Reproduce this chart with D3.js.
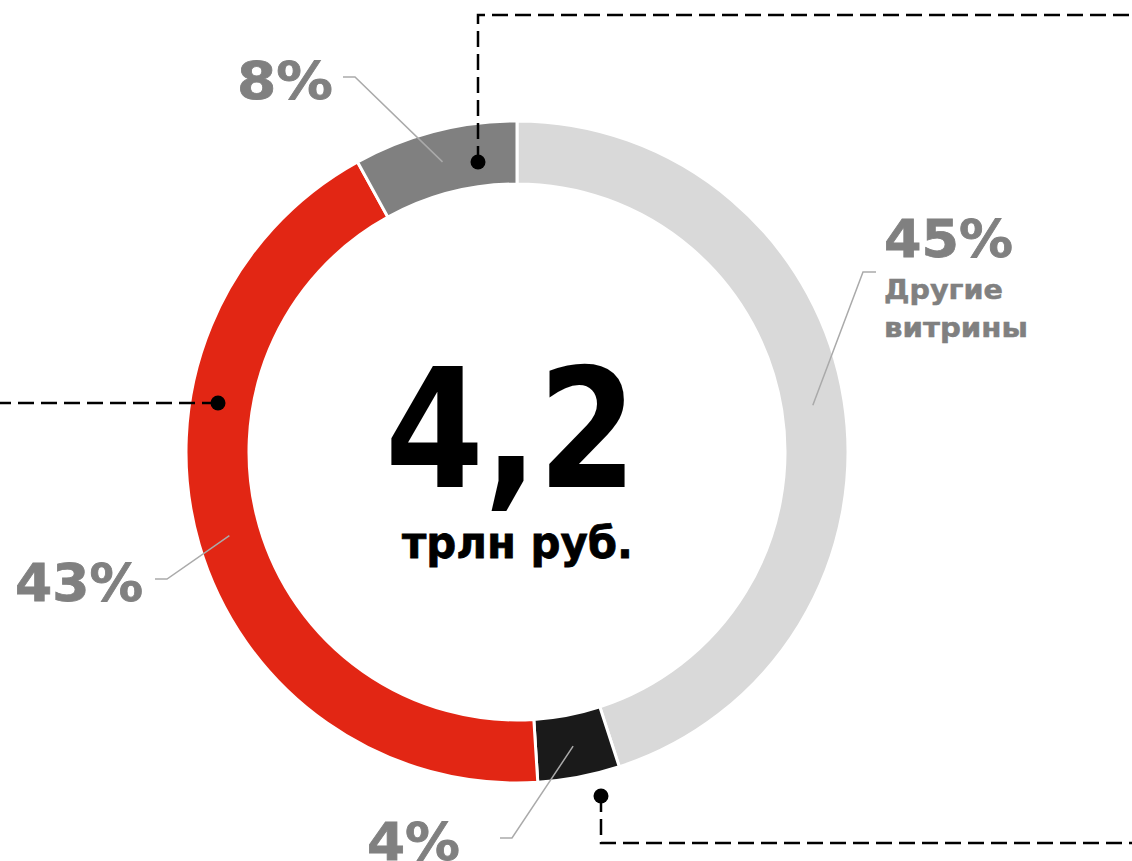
<!DOCTYPE html>
<html>
<head>
<meta charset="utf-8">
<script src="https://cdn.jsdelivr.net/npm/d3@7"></script>
<style>
html,body{margin:0;padding:0;background:#fff;}
svg{display:block;}
text{font-family:"DejaVu Sans",Verdana,sans-serif;font-weight:bold;}
</style>
</head>
<body>
<svg id="chart" width="1132" height="861"></svg>
<script>
// Data
const categories = ["Другие витрины", "Сегмент 2", "Сегмент 3", "Сегмент 4"];
const values = [45, 4, 43, 8];
const colors = ["#d9d9d9", "#1a1a1a", "#e22614", "#808080"];
const pctLabels = ["45%", "4%", "43%", "8%"];
const totalValue = "4,2";
const totalUnit = "трлн руб.";

// Layout
const W = 1132, H = 861;
const cx = 517, cy = 452;
const rOuter = 331, rInner = 268;
const svg = d3.select("#chart");
const g = svg.append("g").attr("transform", `translate(${cx},${cy})`);

const pie = d3.pie().sort(null).value(d => d);
const arcs = pie(values);
const arc = d3.arc().innerRadius(rInner).outerRadius(rOuter);

g.selectAll("path.slice").data(arcs).enter().append("path")
  .attr("class", "slice")
  .attr("d", arc)
  .attr("fill", (d, i) => colors[i])
  .attr("stroke", "#fff")
  .attr("stroke-width", 3);

// label annotation layout (elbow point, end point, text position, text width)
const labelLayout = [
  {elbow: [346, -180], end: [359, -180], tx: 367, ty: -195, w: 129, sub: ["Другие", "витрины"], subW: [119, 144]},
  {elbow: [-5, 386], end: [-17, 386], tx: -150, ty: 408, w: 93, sub: [], subW: []},
  {elbow: [-350, 127], end: [-362, 127], tx: -502, ty: 149, w: 128, sub: [], subW: []},
  {elbow: [-162, -375], end: [-174, -375], tx: -280, ty: -353, w: 96, sub: [], subW: []}
];

arcs.forEach((d, i) => {
  const c = arc.centroid(d);
  const L = labelLayout[i];
  g.append("polyline")
    .attr("points", [c, L.elbow, L.end].map(p => p.join(",")).join(" "))
    .attr("fill", "none")
    .attr("stroke", "#aaaaaa")
    .attr("stroke-width", 1.5);
  g.append("text")
    .attr("x", L.tx).attr("y", L.ty)
    .attr("fill", "#808080")
    .attr("stroke", "#808080").attr("stroke-width", 0.8)
    .attr("font-size", 52)
    .attr("textLength", L.w).attr("lengthAdjust", "spacingAndGlyphs")
    .text(pctLabels[i]);
  L.sub.forEach((s, j) => {
    g.append("text")
      .attr("x", L.tx).attr("y", L.ty + 42 + j * 38)
      .attr("fill", "#808080")
      .attr("stroke", "#808080").attr("stroke-width", 0.5)
      .attr("font-size", 27)
      .attr("textLength", L.subW[j]).attr("lengthAdjust", "spacingAndGlyphs")
      .text(s);
  });
});

// center text
g.append("text").attr("x", -132).attr("y", 35)
  .attr("fill", "#000")
  .attr("font-size", 166)
  .attr("textLength", 252).attr("lengthAdjust", "spacingAndGlyphs")
  .text(totalValue);
g.append("text").attr("x", -115).attr("y", 106)
  .attr("fill", "#000")
  .attr("stroke", "#000").attr("stroke-width", 0.8)
  .attr("font-size", 45)
  .attr("textLength", 231).attr("lengthAdjust", "spacingAndGlyphs")
  .text(totalUnit);

// callout connectors to other charts
const callouts = [
  {pts: [[478, 162], [478, 15], [1132, 15]]},
  {pts: [[218, 403], [0, 403]]},
  {pts: [[601, 796], [601, 843], [1132, 843]]}
];
callouts.forEach(c => {
  svg.append("path")
    .attr("d", d3.line()(c.pts))
    .attr("fill", "none")
    .attr("stroke", "#000")
    .attr("stroke-width", 2.5)
    .attr("stroke-dasharray", "16,7");
  svg.append("circle")
    .attr("cx", c.pts[0][0]).attr("cy", c.pts[0][1])
    .attr("r", 7.5).attr("fill", "#000");
});
</script>
</body>
</html>
